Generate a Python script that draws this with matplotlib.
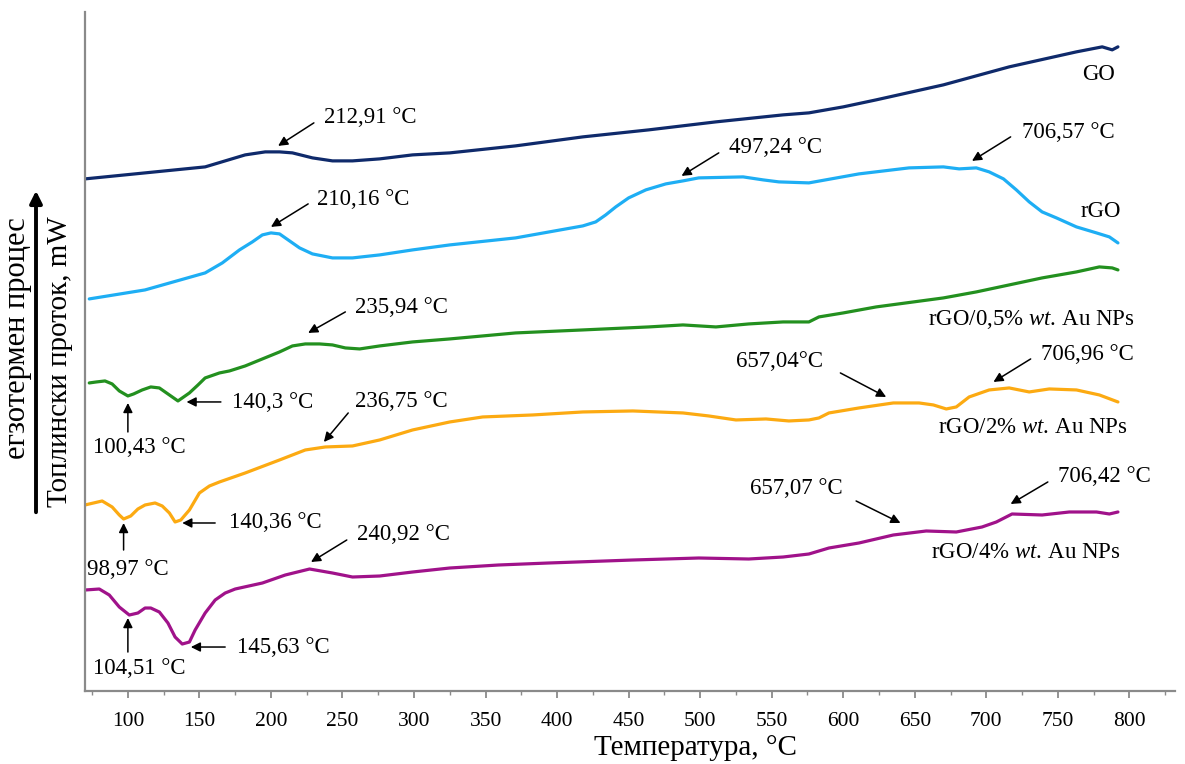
import matplotlib
matplotlib.use("Agg")
import matplotlib.pyplot as plt
from matplotlib.ticker import MultipleLocator

plt.rcParams['font.family'] = ['Liberation Serif', 'DejaVu Serif']
plt.rcParams['mathtext.fontset'] = 'custom'
plt.rcParams['mathtext.rm'] = 'Liberation Serif'
plt.rcParams['mathtext.it'] = 'Liberation Serif:italic'

# heat flow, arbitrary units with each curve at its own offset
go_t = [70, 112, 154, 168, 182, 196, 206, 215, 229, 243, 257, 276, 299, 325, 371,
        418, 464, 511, 558, 576, 600, 623, 670, 716, 763, 781, 788, 792]
go_q = [512, 518, 524, 530, 536, 539, 539, 538, 533, 530, 530, 532, 536, 538, 545,
        554, 561, 569, 576, 578, 584, 591, 606, 624, 639, 644, 641, 644]

rgo_t = [73, 112, 154, 166, 178, 187, 194, 200, 206, 213, 220, 229, 243, 257, 276,
         299, 325, 371, 418, 427, 434, 441, 450, 462, 476, 488, 499, 530, 544, 555,
         576, 611, 646, 670, 681, 693, 702, 712, 721, 730, 739, 749, 763, 777, 786, 792]
rgo_q = [392, 401, 418, 428, 441, 449, 456, 458, 457, 450, 443, 437, 433, 433, 436,
         441, 446, 453, 465, 469, 476, 484, 493, 501, 507, 510, 513, 514, 511, 509,
         508, 517, 523, 524, 522, 523, 519, 512, 501, 489, 479, 473, 464, 458, 454, 448]

au05_t = [73, 78, 84, 89, 94, 100, 104, 110, 116, 122, 126, 131, 135, 138, 143,
          149, 154, 164, 171, 182, 194, 206, 215, 224, 234, 243, 252, 262, 276, 299,
          325, 371, 418, 464, 488, 511, 534, 558, 576, 583, 600, 623, 670, 693, 716,
          739, 763, 779, 788, 792]
au05_q = [308, 309, 310, 307, 300, 295, 297, 301, 304, 303, 299, 294, 290, 293, 298,
          306, 313, 318, 320, 325, 332, 339, 345, 347, 347, 346, 343, 342, 345, 349,
          352, 358, 361, 364, 366, 364, 367, 369, 369, 374, 378, 384, 393, 399, 406,
          413, 419, 424, 423, 421]

au2_t = [70, 76, 82, 89, 94, 97, 102, 107, 112, 119, 124, 129, 133, 137, 143,
         150, 157, 164, 182, 206, 224, 238, 257, 276, 299, 325, 348, 383, 418, 453,
         488, 506, 525, 546, 562, 576, 583, 590, 611, 635, 653, 663, 672, 679, 688,
         702, 716, 730, 744, 763, 779, 792]
au2_q = [186, 188, 190, 184, 176, 172, 175, 182, 186, 188, 185, 178, 169, 171, 181,
         198, 205, 209, 218, 231, 241, 244, 245, 251, 261, 269, 274, 276, 279, 280,
         278, 275, 271, 272, 270, 271, 273, 278, 283, 288, 288, 286, 282, 284, 294,
         301, 303, 299, 302, 301, 296, 289]

au4_t = [70, 80, 87, 94, 101, 107, 112, 116, 122, 128, 133, 138, 143, 147, 154,
         161, 168, 175, 194, 210, 227, 243, 257, 276, 299, 325, 359, 394, 453, 499,
         534, 558, 576, 590, 611, 635, 658, 679, 697, 707, 718, 739, 758, 777, 786, 792]
au4_q = [101, 102, 96, 84, 76, 78, 83, 83, 79, 68, 54, 47, 49, 61, 78,
         91, 98, 102, 108, 116, 122, 118, 114, 115, 119, 123, 126, 128, 131, 133,
         132, 134, 137, 143, 148, 156, 160, 159, 164, 169, 177, 176, 179, 179, 177, 179]

series = [
    (go_t, go_q, '#0f2a6b'),
    (rgo_t, rgo_q, '#1eaef4'),
    (au05_t, au05_q, '#23901f'),
    (au2_t, au2_q, '#fcaa12'),
    (au4_t, au4_q, '#a0128a'),
]

# peak labels: text, text anchor (T, q), arrow tail, arrow tip, alignment
peaks = [
    ('212,91 °C', (237, 573), (230, 568), (205, 545), 'left'),
    ('210,16 °C', (232, 491), (226, 487), (200, 464), 'left'),
    ('235,94 °C', (259, 383), (252, 379), (226, 358), 'left'),
    ('497,24 °C', (520, 543), (513, 538), (487, 515), 'left'),
    ('706,57 °C', (725, 558), (717, 554), (690, 530), 'left'),
    ('100,43 °C', (108, 243), (100, 259), (100, 288), 'center'),
    ('140,3 °C', (173, 288), (165, 289), (141, 289), 'left'),
    ('236,75 °C', (259, 289), (254, 278), (237, 249), 'left'),
    ('98,97 °C', (100, 122), (97, 141), (97, 168), 'center'),
    ('140,36 °C', (171, 168), (161, 168), (138, 168), 'left'),
    ('240,92 °C', (260, 156), (253, 151), (228, 129), 'left'),
    ('104,51 °C', (108, 23), (100, 39), (100, 73), 'center'),
    ('145,63 °C', (176, 44), (168, 44), (144, 44), 'left'),
    ('657,04°C', (525, 329), (598, 318), (630, 294), 'left'),
    ('706,96 °C', (738, 336), (731, 332), (705, 309), 'left'),
    ('657,07 °C', (535, 202), (609, 190), (640, 168), 'left'),
    ('706,42 °C', (750, 214), (743, 209), (717, 187), 'left'),
]

names = [
    ('GO', (790, 616)),
    ('rGO', (794, 479)),
    (r'rGO/0,5% $\mathit{wt.}\,$Au NPs', (804, 371)),
    (r'rGO/2% $\mathit{wt.}\,$Au NPs', (799, 263)),
    (r'rGO/4% $\mathit{wt.}\,$Au NPs', (794, 138)),
]

fig = plt.figure(figsize=(11.85, 7.64), dpi=100)
ax = fig.add_axes([0.0717, 0.0955, 0.92, 0.889])

for t, q, c in series:
    ax.plot(t, q, color=c, lw=2.3, solid_joinstyle='round', solid_capstyle='round')

for label, txt, tail, tip, ha in peaks:
    ax.annotate('', xy=tip, xytext=tail,
                arrowprops=dict(arrowstyle='-|>', color='black', lw=1.1,
                                mutation_scale=14, shrinkA=0, shrinkB=0))
    ax.text(txt[0], txt[1], label, ha=ha, va='center', fontsize=16.5)

for label, pos in names:
    ax.text(pos[0], pos[1], label, ha='right', va='center', fontsize=16.5)

ax.set_xlim(70, 832)
ax.set_ylim(0, 679)
ax.set_yticks([])
ax.xaxis.set_major_locator(MultipleLocator(50))
ax.xaxis.set_minor_locator(MultipleLocator(25))
ax.tick_params(axis='x', which='major', length=5, width=1.3, color='#8a8a8a',
               labelsize=15.5, pad=10)
ax.tick_params(axis='x', which='minor', length=3, width=1.0, color='#8a8a8a')
for side in ['top', 'right']:
    ax.spines[side].set_visible(False)
for side in ['left', 'bottom']:
    ax.spines[side].set_color('#8a8a8a')
    ax.spines[side].set_linewidth(1.6)

ax.set_xlabel('Температура, °C', fontsize=21, labelpad=2)
ax.xaxis.set_label_coords(0.56, -0.065)

fig.text(60 / 1185, 1 - 362 / 764, 'Топлински проток, mW', rotation=90,
         ha='center', va='center', fontsize=21)
fig.text(18 / 1185, 1 - 338 / 764, 'егзотермен процес', rotation=90,
         ha='center', va='center', fontsize=22)
fig.patches.append(matplotlib.patches.FancyArrowPatch(
    (36 / 1185, 1 - 515 / 764), (36 / 1185, 1 - 188 / 764),
    transform=fig.transFigure, arrowstyle='-|>', mutation_scale=18,
    color='black', lw=2.8))

fig.savefig('out.png', dpi=100)
